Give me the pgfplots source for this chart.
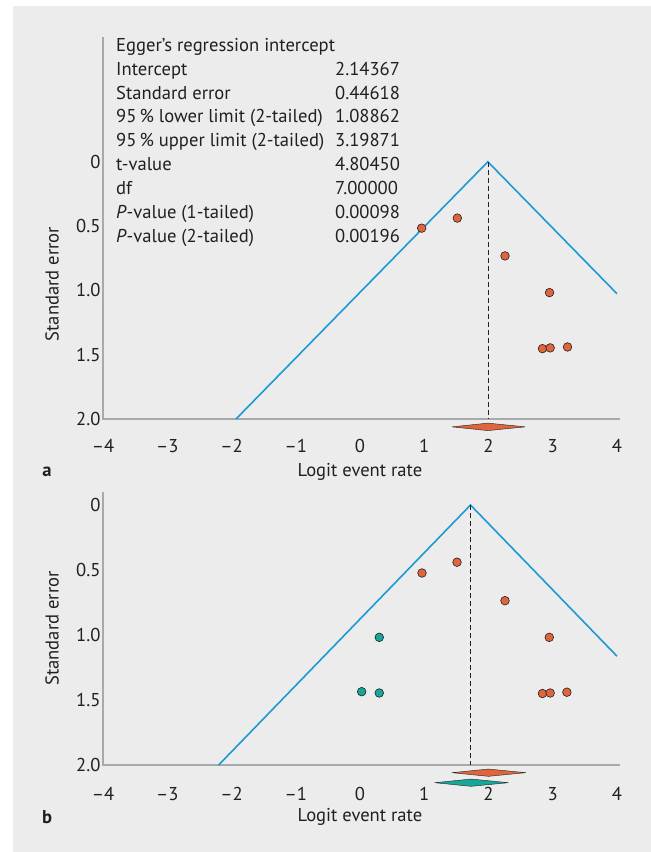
\documentclass[border=0pt]{standalone}
\usepackage{fontspec}
\setmainfont{PT Sans}
\usepackage{pgfplots}
\pgfplotsset{compat=1.18}
\definecolor{bg}{HTML}{EBECEB}
\definecolor{axgray}{HTML}{A7A9AC}
\definecolor{funnel}{HTML}{1C9AD6}
\definecolor{orng}{HTML}{E0643C}
\definecolor{teal2}{HTML}{14A79A}
\definecolor{txt}{HTML}{231F20}
\newcommand{\fs}{\fontsize{18.6}{23.9}\selectfont}
\pgfplotsset{
 funnelax/.style={
  scale only axis, width=514pt, xmin=-4, xmax=4, y dir=reverse,
  axis line style={draw=none}, tick style={draw=none}, major tick length=0pt,
  xtick={-4,-3,-2,-1,0,1,2,3,4}, xticklabels={--4,--3,--2,--1,0,1,2,3,4},
  ytick={0,0.5,1,1.5,2}, yticklabels={0,0.5,1.0,1.5,2.0},
  tick label style={font=\fs, text=txt},
  yticklabel style={xshift=1pt},
  clip=false,
 },
 pts/.style={only marks, mark=*, mark size=4.3pt, mark options={fill=#1, draw=txt, line width=0.6pt}},
 diam/.style={fill=#1, draw=txt, line width=0.4pt},
}
\begin{document}
\begin{tikzpicture}
\path[use as bounding box] (0,0) rectangle (651pt,-852pt);
\fill[bg] (13pt,-6pt) rectangle (651pt,-852pt);

% ---------------- panel a ----------------
\begin{axis}[funnelax, at={(103pt,-419pt)}, anchor=south west, height=382pt,
  ymin=-0.97, ymax=2, xticklabel style={yshift=-17pt}]
\draw[axgray, line width=2.2pt] (axis cs:-4,-0.97) -- (axis cs:-4,2) -- (axis cs:4.05,2);
\addplot[funnel, line width=1.6pt] coordinates {(-1.93,2) (1.99,0) (4,1.026)};
\addplot[txt, line width=0.7pt, dash pattern=on 5pt off 3pt] coordinates {(1.99,0) (1.99,2)};
\addplot[pts=orng] coordinates {
 (0.96,0.516) (1.515,0.438) (2.257,0.732) (2.95,1.017)
 (2.84,1.453) (2.96,1.447) (3.23,1.440)};
\addplot[diam=orng] coordinates {(1.43,2.061) (1.99,2.032) (2.575,2.061) (1.99,2.090) (1.43,2.061)};
\node[rotate=90, font=\fs, text=txt] at ([xshift=-51pt]axis cs:-4,0.95) {Standard error};
\node[font=\fs, text=txt] at ([yshift=-53pt]axis cs:0,2) {Logit event rate};
\end{axis}

\node[anchor=north west, inner sep=0pt, font=\fs, text=txt] at (116pt,-34.3pt) {%
\begin{tabular}{@{}p{219pt}@{}l@{}}
\multicolumn{2}{@{}l@{}}{Egger’s regression intercept}\\
Intercept & 2.14367\\
Standard error & 0.44618\\
95\,\% lower limit (2-tailed) & 1.08862\\
95\,\% upper limit (2-tailed) & 3.19871\\
t-value & 4.80450\\
df & 7.00000\\
\textit{P}-value (1-tailed) & 0.00098\\
\textit{P}-value (2-tailed) & 0.00196
\end{tabular}};
\node[font=\fs\bfseries, text=txt] at (47pt,-472pt) {a};

% ---------------- panel b ----------------
\begin{axis}[funnelax, at={(103pt,-765pt)}, anchor=south west, height=273pt,
  ymin=-0.1, ymax=2, xticklabel style={yshift=-19pt}]
\draw[axgray, line width=2.2pt] (axis cs:-4,-0.1) -- (axis cs:-4,2) -- (axis cs:4.05,2);
\addplot[funnel, line width=1.6pt] coordinates {(-2.2,2) (1.72,0) (4,1.163)};
\addplot[txt, line width=0.7pt, dash pattern=on 5pt off 3pt] coordinates {(1.72,0) (1.72,2)};
\addplot[pts=orng] coordinates {
 (0.965,0.523) (1.51,0.440) (2.257,0.736) (2.946,1.018)
 (2.84,1.450) (2.96,1.446) (3.22,1.440)};
\addplot[pts=teal2] coordinates {(0.30,1.018) (0.026,1.436) (0.30,1.446)};
\addplot[diam=orng] coordinates {(1.43,2.059) (2.0,2.031) (2.58,2.059) (2.0,2.087) (1.43,2.059)};
\addplot[diam=teal2] coordinates {(1.16,2.136) (1.73,2.108) (2.31,2.136) (1.73,2.164) (1.16,2.136)};
\node[rotate=90, font=\fs, text=txt] at ([xshift=-51pt]axis cs:-4,0.95) {Standard error};
\node[font=\fs, text=txt] at ([yshift=-52pt]axis cs:0,2) {Logit event rate};
\end{axis}
\node[font=\fs\bfseries, text=txt] at (47pt,-817pt) {b};
\end{tikzpicture}
\end{document}
